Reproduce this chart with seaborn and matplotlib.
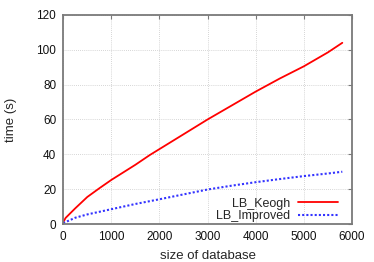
import matplotlib
matplotlib.use("Agg")
import matplotlib.pyplot as plt
import seaborn as sns
import pandas as pd

# values
keogh_x = [0, 50, 250, 500, 750, 1000, 1500, 1800, 2000, 2500, 3000, 3500, 4000, 4500, 5000, 5500, 5800]
keogh_t = [1.0, 3.5, 9.0, 15.5, 20.5, 25.3, 34.0, 39.6, 43.0, 51.5, 60.0, 68.0, 76.0, 83.5, 90.5, 98.5, 104.0]
improved_x = [0, 250, 500, 1000, 1500, 2000, 2500, 3000, 3500, 4000, 4500, 5000, 5500, 5800]
improved_t = [0.5, 3.6, 5.5, 8.5, 11.5, 14.2, 17.0, 19.8, 22.0, 24.0, 25.8, 27.5, 29.0, 30.0]

sns.set_style("white")
plt.rcParams["font.family"] = ["Liberation Sans", "DejaVu Sans"]

fig = plt.figure(figsize=(3.74, 2.62), dpi=100)
ax = fig.add_axes([0.169, 0.145, 0.772, 0.798])

keogh = pd.DataFrame({"size": keogh_x, "time": keogh_t})
improved = pd.DataFrame({"size": improved_x, "time": improved_t})

sns.lineplot(data=keogh, x="size", y="time", ax=ax, color="#ff0000", lw=1.3, label="LB_Keogh")
sns.lineplot(data=improved, x="size", y="time", ax=ax, color="#3333ff", lw=1.5,
             linestyle=(0, (1, 1)), label="LB_Improved")

ax.set_xlim(0, 6000)
ax.set_ylim(0, 120)
ax.set_xticks(range(0, 6001, 1000))
ax.set_yticks(range(0, 121, 20))
ax.grid(True, color="#c8c8c8", linestyle=(0, (1, 1.5)), lw=0.6)
for s in ax.spines.values():
    s.set_color("#7a7a7a")
    s.set_linewidth(1.3)
ax.tick_params(direction="in", length=3, color="#7a7a7a", top=True, right=True,
               labelsize=8.5, pad=5, labelcolor="#111111")
ax.set_xlabel("size of database", fontsize=9.5, labelpad=5)
ax.set_ylabel("time (s)", fontsize=9.5, labelpad=14)

ax.legend(loc="lower right", bbox_to_anchor=(0.969, -0.0155), frameon=False,
          markerfirst=False, fontsize=9, handlelength=3.2, borderaxespad=0,
          labelspacing=0.05, handletextpad=0.6)

fig.savefig("out.png", dpi=100)
